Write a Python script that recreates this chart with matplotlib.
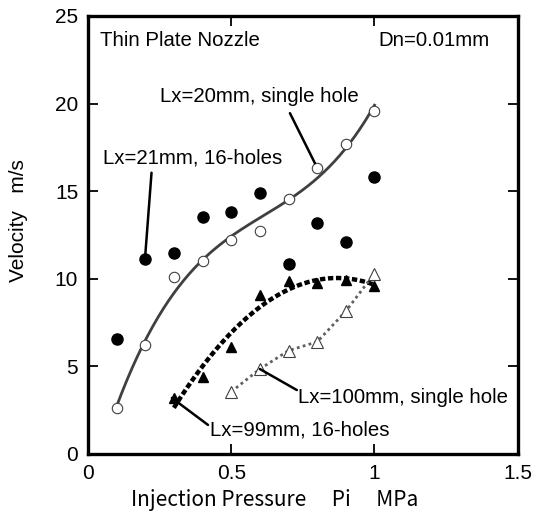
import numpy as np
from matplotlib import pyplot as plt

# injection pressure (MPa) for each series
p_circ = [0.1, 0.2, 0.3, 0.4, 0.5, 0.6, 0.7, 0.8, 0.9, 1.0]
p_tri_99 = [0.3, 0.4, 0.5, 0.6, 0.7, 0.8, 0.9, 1.0]
p_tri_100 = [0.5, 0.6, 0.7, 0.8, 0.9, 1.0]

# velocity (m/s)
v_lx20_single = [2.6, 6.2, 10.1, 11.0, 12.2, 12.7, 14.55, 16.3, 17.7, 19.6]
v_lx21_16holes = [6.55, 11.1, 11.45, 13.55, 13.8, 14.9, 10.85, 13.2, 12.1, 15.8]
v_lx99_16holes = [3.2, 4.4, 6.1, 9.1, 9.85, 9.75, 9.95, 9.6]
v_lx100_single = [3.55, 4.85, 5.9, 6.4, 8.15, 10.3]

plt.rcParams['font.family'] = ['Liberation Sans', 'DejaVu Sans']
gothic = ['Noto Sans CJK JP', 'DejaVu Sans']
fs = 14.7

fig = plt.figure(figsize=(5.36, 5.24), dpi=100)
ax = fig.add_axes([0.164, 0.1336, 0.802, 0.836])

# trend curves fitted to the measured points
c20 = np.polyfit(p_circ, v_lx20_single, 3)
xs = np.linspace(0.1, 1.0, 200)
ax.plot(xs, np.polyval(c20, xs), color='#404040', lw=2.0, zorder=2)

c99 = np.polyfit(p_tri_99, v_lx99_16holes, 2)
xs2 = np.linspace(0.3, 1.0, 200)
ax.plot(xs2, np.polyval(c99, xs2), color='black', lw=3.2, ls=(0, (1.2, 0.6)), zorder=2)

ax.plot(p_tri_100, v_lx100_single, color='#606060', lw=2.0, ls=(0, (1, 1.2)), zorder=2)

ax.plot(p_circ, v_lx20_single, 'o', mfc='white', mec='#404040', mew=0.8, ms=7.5, zorder=3)
ax.plot(p_circ, v_lx21_16holes, 'o', mfc='black', mec='black', ms=8, zorder=3)
ax.plot(p_tri_99, v_lx99_16holes, '^', mfc='black', mec='black', ms=7.5, zorder=3)
ax.plot(p_tri_100, v_lx100_single, '^', mfc='white', mec='#404040', mew=0.8, ms=8, zorder=3)

ax.set_xlim(0, 1.5)
ax.set_ylim(0, 25)
ax.set_xticks([0, 0.5, 1, 1.5])
ax.set_xticklabels(['0', '0.5', '1', '1.5'])
ax.set_yticks([0, 5, 10, 15, 20, 25])
for s in ax.spines.values():
    s.set_linewidth(2.4)
ax.tick_params(direction='in', length=7, width=1.3, top=True, right=True, labelsize=15, pad=7)

ax.set_xlabel('Injection Pressure\u3000 Pi\u3000 MPa', family=gothic, fontsize=15)
ax.set_ylabel('Velocity   m/s', fontsize=15)
ax.xaxis.set_label_coords(0.435, -0.08)
ax.yaxis.set_label_coords(-0.14, 0.534)

ax.text(0.042, 23.6, 'Thin Plate Nozzle', fontsize=fs, va='center')
ax.text(1.402, 23.6, 'Dn=0.01mm', fontsize=fs, va='center', ha='right')

# text labels and their leader lines
ax.text(0.251, 20.4, 'Lx=20mm, single hole', fontsize=fs, va='center')
ax.annotate('', xy=(0.792, 16.6), xytext=(0.705, 19.45),
            arrowprops=dict(arrowstyle='-', color='black', lw=1.8, shrinkA=0, shrinkB=0))
ax.text(0.052, 16.9, 'Lx=21mm, 16-holes', fontsize=fs, va='center')
ax.annotate('', xy=(0.199, 11.1), xytext=(0.222, 16.05),
            arrowprops=dict(arrowstyle='-', color='black', lw=1.8, shrinkA=0, shrinkB=0))
ax.text(0.732, 3.25, 'Lx=100mm, single hole', fontsize=fs, va='center')
ax.annotate('', xy=(0.6, 4.85), xytext=(0.729, 3.65),
            arrowprops=dict(arrowstyle='-', color='black', lw=1.8, shrinkA=0, shrinkB=0))
ax.text(0.4255, 1.37, 'Lx=99mm, 16-holes', fontsize=fs, va='center')
ax.annotate('', xy=(0.293, 3.2), xytext=(0.419, 1.66),
            arrowprops=dict(arrowstyle='-', color='black', lw=1.8, shrinkA=0, shrinkB=0))

fig.savefig('out.png', dpi=100)
